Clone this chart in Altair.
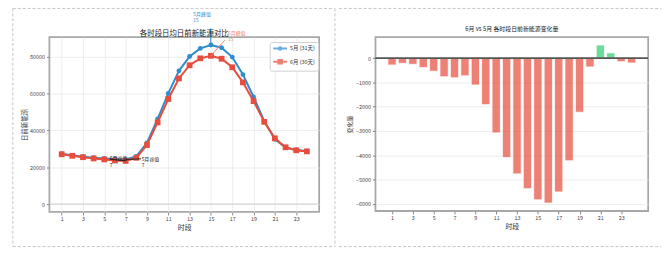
import altair as alt
import numpy as np
import pandas as pd

# Hourly average day-ahead renewable output, May vs June
hours = list(range(1, 25))
series_names = ["5月 (31天)", "6月 (30天)"]
may_avg = [27270, 26360, 25640, 25090, 24730, 24360, 24180, 25800, 33090, 46180,
           60000, 72180, 80000, 84360, 86180, 84730, 79640, 70180, 58000, 44900,
           35090, 30550, 29270, 28730]
june_avg = [26986, 26144, 25383, 24698, 24190, 23590, 23369, 25070, 31982, 44261,
            56919, 68085, 75230, 78982, 80342, 78757, 74126, 65950, 55770, 44535,
            35630, 30766, 29121, 28527]
odd_ticks = list(range(1, 24, 2))
left_title = "各时段日均日前新能源对比"
right_title = "6月 vs 5月 各时段日前新能源变化量"

BLUE = "#2f8ccf"
RED = "#e74c3c"
GREEN = "#2ecc71"
FONT = "Noto Sans CJK SC"

long_df = pd.DataFrame({
    "hour": hours * 2,
    "value": may_avg + june_avg,
    "series": [series_names[0]] * 24 + [series_names[1]] * 24,
})

change = (np.array(june_avg) - np.array(may_avg)).tolist()
diff_df = pd.DataFrame({"hour": hours, "change": change})

one_row = pd.DataFrame({"k": [0]})
dash = dict(color="#c4c4c4", strokeWidth=1, strokeDash=[3, 2])

# ---------------- left panel: line comparison ----------------
LW, LH = 273, 177
vmax = max(max(may_avg), max(june_avg))
left_domain = [-0.05 * vmax, vmax * 1.05]

sx_left = alt.Scale(domain=[-0.15, 25.15], nice=False, zero=False)
sy_left = alt.Scale(domain=left_domain, nice=False)
ax_x_left = alt.Axis(values=odd_ticks, title="时段", grid=True, labelPadding=1.5,
                     titlePadding=2, labelOverlap=False)
ax_y_left = alt.Axis(values=[0, 20000, 40000, 60000, 80000], format="d",
                     title="日前新能源", titleFontSize=6.5, labelPadding=2,
                     titlePadding=2, grid=True, labelOverlap=False)


def lx(field):
    return alt.X(field, type="quantitative", scale=sx_left, axis=ax_x_left)


def ly(field):
    return alt.Y(field, type="quantitative", scale=sy_left, axis=ax_y_left)


color_scale = alt.Scale(domain=series_names, range=[BLUE, RED])
base_left = alt.Chart(long_df)

zero_line = alt.Chart(one_row).mark_rule(color="#cfcfcf", strokeWidth=1).encode(
    y=alt.YDatum(0, scale=sy_left, axis=ax_y_left))


def series_layers(name, shape, size):
    sub = base_left.transform_filter(alt.datum.series == name)
    line = sub.mark_line(strokeWidth=2).encode(
        x=lx("hour"), y=ly("value"),
        color=alt.Color("series:N", scale=color_scale, legend=None))
    pts = sub.mark_point(filled=True, opacity=1, shape=shape, size=size).encode(
        x=lx("hour"), y=ly("value"),
        color=alt.Color("series:N", scale=color_scale, legend=None))
    return [line, pts]


# peak / valley annotations
may_peak_i = int(np.argmax(may_avg))
june_peak_i = int(np.argmax(june_avg))
may_low_i = int(np.argmin(may_avg))
june_low_i = int(np.argmin(june_avg))

ann_df = pd.DataFrame([
    {"label": f"5月峰值\n{hours[may_peak_i]}", "px": hours[may_peak_i], "py": may_avg[may_peak_i],
     "tx": hours[may_peak_i] - 1.65, "ty": may_avg[may_peak_i] + 15800,
     "ex": hours[may_peak_i] - 0.05, "ey": may_avg[may_peak_i] + 9000, "kind": "may_peak"},
    {"label": f"6月峰值\n{hours[june_peak_i]}", "px": hours[june_peak_i], "py": june_avg[june_peak_i],
     "tx": hours[june_peak_i] + 1.6, "ty": june_avg[june_peak_i] + 11500,
     "ex": hours[june_peak_i] + 1.3, "ey": june_avg[june_peak_i] + 8500, "kind": "june_peak"},
    {"label": f"5月谷值\n{hours[may_low_i]}", "px": hours[may_low_i], "py": may_avg[may_low_i],
     "tx": hours[may_low_i] + 1.5, "ty": may_avg[may_low_i] - 650,
     "ex": hours[may_low_i] + 1.45, "ey": may_avg[may_low_i] + 300, "kind": "may_low"},
    {"label": f"6月谷值\n{hours[june_low_i]}", "px": hours[june_low_i], "py": june_avg[june_low_i],
     "tx": hours[june_low_i] - 1.5, "ty": june_avg[june_low_i] + 450,
     "ex": hours[june_low_i] - 1.5, "ey": june_avg[june_low_i] + 1000, "kind": "june_low"},
])
ann_colors = alt.Scale(domain=["may_peak", "june_peak", "may_low", "june_low"],
                       range=[BLUE, "#ee8276", "#222222", "#222222"])

ann_rules = alt.Chart(ann_df).mark_rule(strokeWidth=1).encode(
    x=lx("px"), x2="ex:Q", y=ly("py"), y2="ey:Q",
    color=alt.Color("kind:N", scale=ann_colors, legend=None))

ann_text = alt.Chart(ann_df).mark_text(
    align="left", baseline="alphabetic", fontSize=5, lineBreak="\n", lineHeight=6.5, font=FONT
).encode(
    x=lx("tx"), y=ly("ty"), text="label:N",
    color=alt.Color("kind:N", scale=ann_colors, legend=None))

# legend entries: a short line with the series marker
legend_paths = [
    "M-2.33,0L2.33,0M-0.45,0A0.45,0.45,0,1,0,0.45,0A0.45,0.45,0,1,0,-0.45,0Z",
    "M-2.33,0L2.33,0M-0.6,-0.6L0.6,-0.6L0.6,0.6L-0.6,0.6Z",
]
legend_layer = alt.Chart(long_df).mark_point(filled=False, strokeWidth=2, size=36, clip=True).encode(
    x=alt.value(-300), y=alt.value(-300),
    stroke=alt.Stroke("series:N", scale=alt.Scale(domain=series_names, range=[BLUE, RED]),
                      legend=alt.Legend(title=None, orient="none", legendX=223, legendY=5,
                                        labelFontSize=5.5, labelColor="#333", labelFont=FONT,
                                        symbolSize=36, symbolStrokeWidth=2, symbolOffset=4,
                                        padding=2.5, rowPadding=1.5, labelOffset=6,
                                        fillColor="white", strokeColor="#d0d0d0",
                                        cornerRadius=2)),
    shape=alt.Shape("series:N", scale=alt.Scale(domain=series_names, range=legend_paths),
                    legend=alt.Legend(title=None, orient="none", legendX=223, legendY=5)),
)

left_title_mark = alt.Chart(one_row).mark_text(
    text=left_title, fontSize=7.5, color="#222222", font=FONT, baseline="middle", align="center"
).encode(x=alt.value(LW / 2), y=alt.value(-3.5))

# dashed container outline (left half + divider)
frame_left = [
    alt.Chart(one_row).mark_rule(**dash).encode(x=alt.value(-37), x2=alt.value(289), y=alt.value(-29)),
    alt.Chart(one_row).mark_rule(**dash).encode(x=alt.value(-37), x2=alt.value(289), y=alt.value(212)),
    alt.Chart(one_row).mark_rule(**dash).encode(x=alt.value(-37), y=alt.value(-29), y2=alt.value(212)),
    alt.Chart(one_row).mark_rule(**dash).encode(x=alt.value(289), y=alt.value(-29), y2=alt.value(212)),
]

left = alt.layer(
    zero_line,
    *series_layers(series_names[0], "circle", 24),
    *series_layers(series_names[1], "square", 34),
    ann_rules, ann_text, legend_layer, left_title_mark, *frame_left,
).properties(width=LW, height=LH).resolve_scale(color="independent")

# ---------------- right panel: change bars ----------------
RW, RH = 276, 176
cmin, cmax = min(change), max(change)
crange = cmax - cmin
right_domain = [cmin - 0.05 * crange, cmax + 0.05 * crange]
bar_half = 0.4
sx_right = alt.Scale(domain=[1 - bar_half - 0.05 * (23 + 2 * bar_half),
                             24 + bar_half + 0.05 * (23 + 2 * bar_half)],
                     nice=False, zero=False)
sy_right = alt.Scale(domain=right_domain, nice=False)
ax_y_right = alt.Axis(values=[-6000, -5000, -4000, -3000, -2000, -1000, 0], format="d",
                      title="变化量", titleFontSize=6, grid=True, labelPadding=2,
                      titlePadding=3, labelOverlap=False)

bars = alt.Chart(diff_df).transform_calculate(
    x0=f"datum.hour - {bar_half}", x1=f"datum.hour + {bar_half}",
    sign="datum.change >= 0 ? 'pos' : 'neg'",
).mark_bar(opacity=0.7, stroke="white", strokeWidth=0.8, strokeOpacity=1).encode(
    x=alt.X("x0:Q", scale=sx_right,
            axis=alt.Axis(values=odd_ticks, title="时段", grid=False, labelPadding=1.5,
                          titlePadding=2, labelOverlap=False)),
    x2="x1:Q",
    y=alt.Y("change:Q", scale=sy_right, axis=ax_y_right),
    y2=alt.datum(0),
    color=alt.Color("sign:N", scale=alt.Scale(domain=["neg", "pos"], range=[RED, GREEN]),
                    legend=None),
)

base_line = alt.Chart(one_row).mark_rule(color="#555555", strokeWidth=1.6).encode(
    y=alt.YDatum(0, scale=sy_right, axis=ax_y_right))

right_title_mark = alt.Chart(one_row).mark_text(
    text=right_title, fontSize=6, color="#222222", font=FONT, baseline="middle", align="center"
).encode(x=alt.value(RW / 2), y=alt.value(-8))

frame_right = [
    alt.Chart(one_row).mark_rule(**dash).encode(x=alt.value(-37), x2=alt.value(289), y=alt.value(-29)),
    alt.Chart(one_row).mark_rule(**dash).encode(x=alt.value(-37), x2=alt.value(289), y=alt.value(212)),
]

right = alt.layer(bars, base_line, right_title_mark, *frame_right).properties(width=RW, height=RH)

chart = alt.hconcat(left, right, spacing=0).properties(
    padding={"left": 11, "top": 5, "right": 0, "bottom": 5},
    background="white",
).configure(font=FONT).configure_view(
    stroke="#a8a8a8", strokeWidth=1.8
).configure_axis(
    labelFontSize=5.5, labelColor="#444444", labelFont=FONT, tickColor="#888888", tickSize=3,
    domain=False, gridColor="#e8e8e8", gridWidth=0.8, titleFontSize=7, titleColor="#333333",
    titleFontWeight="normal", titleFont=FONT, labelOverlap=False,
)

chart.save("out.html", embed_options={"renderer": "svg", "actions": False})
